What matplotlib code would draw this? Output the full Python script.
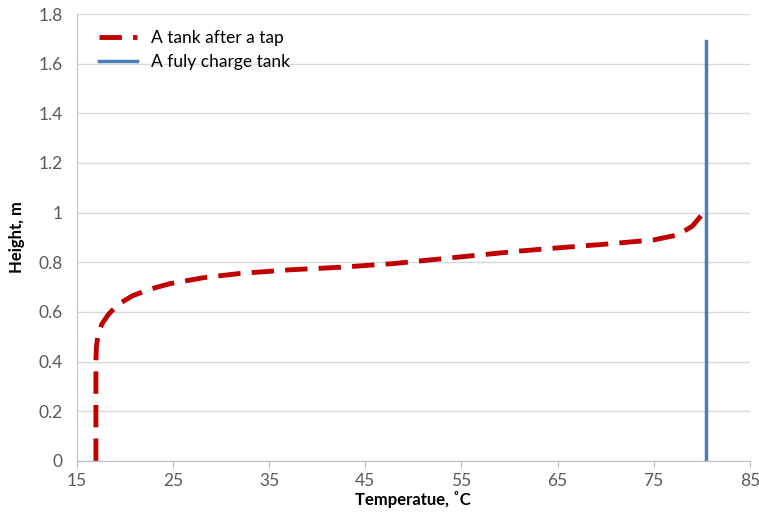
import matplotlib.pyplot as plt

# temperature profile of the tank after a tap
tap_temp = [17.0, 17.0, 17.0, 17.05, 17.2, 17.6, 18.3, 19.3, 20.8, 22.5, 24.6,
            28.2, 32.0, 37.3, 42.5, 48.0, 55.0, 61.0, 65.0, 70.0, 75.0, 77.5,
            79.0, 80.2]
tap_height = [0.0, 0.2, 0.4, 0.46, 0.50, 0.55, 0.59, 0.63, 0.665, 0.69, 0.713,
              0.738, 0.755, 0.77, 0.78, 0.795, 0.822, 0.845, 0.858, 0.873,
              0.89, 0.91, 0.945, 1.0]

# fully charged tank: uniform temperature over the height
full_temp = [80.4, 80.4]
full_height = [0.0, 1.69]

x_ticks = [15, 25, 35, 45, 55, 65, 75, 85]
y_ticks = [0, 0.2, 0.4, 0.6, 0.8, 1.0, 1.2, 1.4, 1.6, 1.8]
y_labels = ["0", "0.2", "0.4", "0.6", "0.8", "1", "1.2", "1.4", "1.6", "1.8"]

plt.rcParams['font.family'] = ['Lato', 'DejaVu Sans']

fig = plt.figure(figsize=(7.59, 5.19), dpi=100)
ax = fig.add_axes([0.101, 0.112, 0.887, 0.861])

ax.plot(tap_temp, tap_height, color='#C00000', lw=3.5, ls=(0, (4.6, 2.3)),
        label='A tank after a tap')
ax.plot(full_temp, full_height, color='#4A7EBB', lw=2.5,
        label='A fuly charge tank')

ax.set_xlim(15, 85)
ax.set_ylim(0, 1.8)
ax.set_xticks(x_ticks)
ax.set_yticks(y_ticks)
ax.set_yticklabels(y_labels)
ax.grid(axis='y', color='#D9D9D9', lw=1)
ax.set_axisbelow(True)

for side in ['top', 'right']:
    ax.spines[side].set_visible(False)
for side in ['left', 'bottom']:
    ax.spines[side].set_color('#BFBFBF')
ax.tick_params(axis='both', colors='#BFBFBF', labelcolor='#595959',
               labelsize=12.5, length=5, direction='out')
ax.tick_params(axis='y', length=0, pad=10)

ax.set_xlabel('Temperatue, ˚C', fontsize=12, fontweight='bold', labelpad=2)
ax.set_ylabel('Height, m', fontsize=12, fontweight='bold', labelpad=10)

ax.legend(loc='upper left', frameon=False, fontsize=12.5, handlelength=2.2,
          bbox_to_anchor=(0.01, 1.0))

fig.savefig('out.png', dpi=100)
